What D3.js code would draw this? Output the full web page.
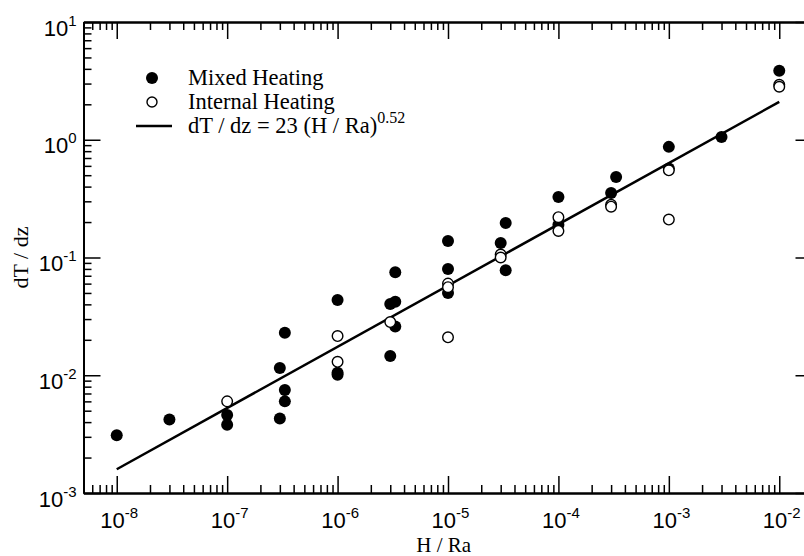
<!DOCTYPE html>
<html><head><meta charset="utf-8">
<script src="https://cdn.jsdelivr.net/npm/d3@7"></script>
<style>
html,body{margin:0;padding:0;background:#fff;}
svg{display:block;font-family:"Liberation Serif","Times New Roman",serif;}
</style></head>
<body><svg id="c" width="804" height="556"></svg>
<script>
// ---- data ----
const mixedX = [1e-8, 3e-8, 1e-7, 1e-7, 3e-7, 3e-7, 3.33e-7, 3.33e-7, 3.33e-7,
  1e-6, 1e-6, 1e-6, 3e-6, 3e-6, 3.33e-6, 3.33e-6, 3.33e-6,
  1e-5, 1e-5, 1e-5, 3e-5, 3.33e-5, 3.33e-5, 1e-4, 1e-4, 3e-4, 3.33e-4,
  1e-3, 1e-3, 3e-3, 1e-2];
const mixedY = [0.0031, 0.0042, 0.0046, 0.0038, 0.0115, 0.0043, 0.023, 0.0075, 0.006,
  0.0435, 0.0105, 0.0101, 0.0403, 0.0146, 0.075, 0.042, 0.026,
  0.138, 0.080, 0.050, 0.133, 0.196, 0.078, 0.327, 0.19, 0.353, 0.483,
  0.87, 0.57, 1.055, 3.85];
const internalX = [1e-7, 1e-6, 1e-6, 3e-6, 1e-5, 1e-5, 1e-5, 3e-5, 3e-5,
  1e-4, 1e-4, 3e-4, 3e-4, 1e-3, 1e-3, 1e-2, 1e-2];
const internalY = [0.0060, 0.0215, 0.013, 0.0283, 0.060, 0.056, 0.021, 0.106, 0.100,
  0.22, 0.168, 0.28, 0.27, 0.55, 0.21, 2.93, 2.82];
const fitCoef = 23, fitExp = 0.52;
const fitRange = [1e-8, 1e-2];
const xTickExps = [-8, -7, -6, -5, -4, -3, -2];
const yTickExps = [-3, -2, -1, 0, 1];
const legendLabels = ["Mixed Heating", "Internal Heating", "dT / dz = 23 (H / Ra)"];
const legendSup = "0.52";
const xTitle = "H / Ra", yTitle = "dT / dz";

// ---- layout ----
const L = 83.5, R = 812.5, T = 22, B = 493;
const svg = d3.select("#c");
const x = d3.scaleLog().domain([5e-9, 2e-2]).range([L, R]);
const y = d3.scaleLog().domain([1e-3, 10]).range([B, T]);

function minors(lo, hi) {
  const out = [];
  for (let e = lo; e <= hi; e++) for (let m = 1; m <= 9; m++) out.push(m * Math.pow(10, e));
  return out;
}
const xMajor = xTickExps.map(e => Math.pow(10, e));
const yMajor = yTickExps.map(e => Math.pow(10, e));
const xMinor = minors(-9, -2).filter(v => v >= 5e-9 && v <= 2e-2 && !xMajor.some(m => Math.abs(m - v) / m < 1e-9));
const yMinor = minors(-3, 0).filter(v => v >= 1e-3 && v <= 10 && !yMajor.some(m => Math.abs(m - v) / m < 1e-9));

function styleAxis(g) {
  g.selectAll("path.domain").attr("stroke", "#000").attr("stroke-width", 2);
  g.selectAll(".tick line").attr("stroke", "#000").attr("stroke-width", 1.5);
  g.selectAll(".tick text").remove();
}
const MAJ = 17, MIN = 8;
function drawAxis(gen, scale, tr, major, minor) {
  const g1 = svg.append("g").attr("transform", tr)
    .call(gen(scale).tickValues(minor).tickSizeInner(-MIN).tickSizeOuter(0).tickFormat(""));
  styleAxis(g1);
  const g2 = svg.append("g").attr("transform", tr)
    .call(gen(scale).tickValues(major).tickSizeInner(-MAJ).tickSizeOuter(0).tickFormat(""));
  styleAxis(g2);
  return g2;
}
const gB = drawAxis(d3.axisBottom, x, `translate(0,${B})`, xMajor, xMinor);
drawAxis(d3.axisTop, x, `translate(0,${T})`, xMajor, xMinor);
const gL = drawAxis(d3.axisLeft, y, `translate(${L},0)`, yMajor, yMinor);
drawAxis(d3.axisRight, y, `translate(${R},0)`, yMajor, yMinor);

function powLabel(sel, exp) {
  sel.append("tspan").text("10");
  sel.append("tspan").attr("font-size", 15).attr("dy", -10).text(String(exp));
}
gB.selectAll(".tick").each(function(d) {
  const t = d3.select(this).append("text").attr("x", 2).attr("y", 35)
    .attr("text-anchor", "middle").attr("font-size", 22).attr("fill", "#000");
  powLabel(t, Math.round(Math.log10(d)));
});
gL.selectAll(".tick").each(function(d) {
  const t = d3.select(this).append("text").attr("x", -7).attr("y", 13)
    .attr("text-anchor", "end").attr("font-size", 22).attr("fill", "#000");
  powLabel(t, Math.round(Math.log10(d)));
});

// titles
svg.append("text").attr("x", (L + 804) / 2).attr("y", 552).attr("text-anchor", "middle")
  .attr("font-size", 21).text(xTitle);
svg.append("text").attr("transform", `translate(28,${(T + B) / 2}) rotate(-90)`)
  .attr("text-anchor", "middle").attr("font-size", 22).text(yTitle);

// fit line
const fitPts = fitRange.map(v => [x(v), y(fitCoef * Math.pow(v, fitExp))]);
svg.append("line").attr("x1", fitPts[0][0]).attr("y1", fitPts[0][1])
  .attr("x2", fitPts[1][0]).attr("y2", fitPts[1][1])
  .attr("stroke", "#000").attr("stroke-width", 2.5);

// points
const r = 6;
svg.append("g").selectAll("circle").data(mixedX.map((v, i) => [v, mixedY[i]])).join("circle")
  .attr("cx", d => x(d[0])).attr("cy", d => y(d[1])).attr("r", r).attr("fill", "#000");
svg.append("g").selectAll("circle").data(internalX.map((v, i) => [v, internalY[i]])).join("circle")
  .attr("cx", d => x(d[0])).attr("cy", d => y(d[1])).attr("r", r - 0.7)
  .attr("fill", "#fff").attr("stroke", "#000").attr("stroke-width", 1.4);

// legend
const lg = svg.append("g");
const rows = [78, 102, 126];
lg.append("circle").attr("cx", 152).attr("cy", rows[0]).attr("r", 6).attr("fill", "#000");
lg.append("circle").attr("cx", 152).attr("cy", rows[1]).attr("r", 5).attr("fill", "#fff")
  .attr("stroke", "#000").attr("stroke-width", 1.4);
lg.append("line").attr("x1", 136).attr("x2", 172).attr("y1", rows[2]).attr("y2", rows[2])
  .attr("stroke", "#000").attr("stroke-width", 2.5);
legendLabels.forEach((s, i) => {
  const t = lg.append("text").attr("x", 188).attr("y", rows[i] + 7).attr("font-size", 22.5).text(s);
  if (i === 2) t.append("tspan").attr("font-size", 16).attr("dy", -10).text(legendSup);
});
</script></body></html>
